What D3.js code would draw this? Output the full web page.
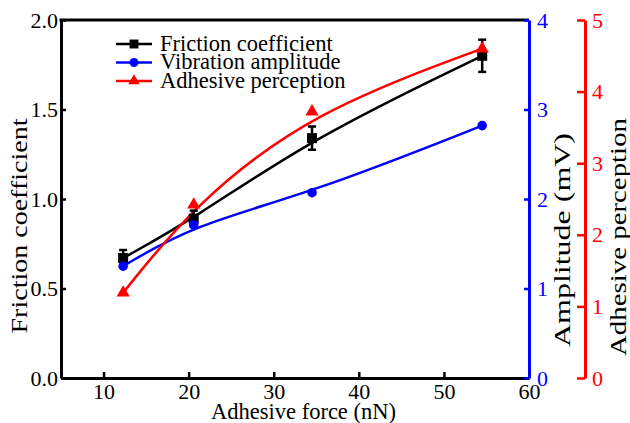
<!DOCTYPE html>
<html>
<head>
<meta charset="utf-8">
<script src="https://cdn.jsdelivr.net/npm/d3@7"></script>
<style>
  body { margin: 0; background: #fff; }
</style>
</head>
<body>
<div id="chart"></div>
<script>
// Data
const adhesiveForce = [12.3, 20.6, 34.5, 54.5];
const friction = [0.67, 0.89, 1.34, 1.80];
const frictionErr = [0.045, 0.045, 0.065, 0.09];
const amplitude = [1.25, 1.71, 2.07, 2.82];
const perception = [1.19, 2.42, 3.72, 4.60];

const xTicks = [10, 20, 30, 40, 50, 60];
const frictionTicks = [0, 0.5, 1.0, 1.5, 2.0];
const amplitudeTicks = [0, 1, 2, 3, 4];
const perceptionTicks = [0, 1, 2, 3, 4, 5];

const W = 630, H = 423;
const plotL = 61, plotR = 529, plotT = 20, plotB = 378;
const redAxisX = 585;
const serif = "Liberation Serif, DejaVu Serif, serif";
const tickFont = "22px";
const titleFont = "22.5px";

const svg = d3.select("#chart").append("svg")
  .attr("width", W).attr("height", H)
  .attr("font-family", serif);

const x = d3.scaleLinear().domain([5, 60]).range([plotL, plotR]);
const yF = d3.scaleLinear().domain([0, 2]).range([plotB, plotT]);
const yA = d3.scaleLinear().domain([0, 4]).range([plotB, plotT]);
const yP = d3.scaleLinear().domain([0, 5]).range([plotB, plotT]);

function styleAxis(g, color) {
  g.attr("font-family", serif).attr("font-size", tickFont);
  g.select(".domain").attr("stroke", color).attr("stroke-width", 3);
  g.selectAll(".tick line").attr("stroke", color).attr("stroke-width", 2.5);
  g.selectAll("text").attr("fill", color);
}

// Frame top line
svg.append("line")
  .attr("x1", plotL - 1.5).attr("x2", plotR)
  .attr("y1", plotT).attr("y2", plotT)
  .attr("stroke", "#000").attr("stroke-width", 3);

// Bottom axis
const gx = svg.append("g")
  .attr("transform", `translate(0,${plotB})`)
  .call(d3.axisBottom(x).tickValues(xTicks).tickSizeInner(-6).tickSizeOuter(0).tickPadding(21).tickFormat(d3.format("d")));
styleAxis(gx, "#000");
gx.selectAll("text").attr("dy", "0");

// Left axis
const gy = svg.append("g")
  .attr("transform", `translate(${plotL},0)`)
  .call(d3.axisLeft(yF).tickValues(frictionTicks).tickSizeInner(-5).tickSizeOuter(0).tickPadding(3).tickFormat(d3.format(".1f")));
styleAxis(gy, "#000");

// Blue right axis
const ga = svg.append("g")
  .attr("transform", `translate(${plotR},0)`)
  .call(d3.axisRight(yA).tickValues(amplitudeTicks).tickSizeInner(-5).tickSizeOuter(0).tickPadding(8).tickFormat(d3.format("d")));
styleAxis(ga, "#0000ff");

// Red right axis
const gp = svg.append("g")
  .attr("transform", `translate(${redAxisX},0)`)
  .call(d3.axisRight(yP).tickValues(perceptionTicks).tickSizeInner(-8).tickSizeOuter(0).tickPadding(7).tickFormat(d3.format("d")));
styleAxis(gp, "#ff0000");

// Axis titles
function title(tx, ty, rot, str, len) {
  const t = svg.append("text")
    .attr("transform", `translate(${tx},${ty})` + (rot ? " rotate(-90)" : ""))
    .attr("text-anchor", "middle")
    .attr("font-size", titleFont)
    .text(str);
  if (len) t.attr("textLength", len).attr("lengthAdjust", "spacingAndGlyphs");
}
title(303.5, 419, false, "Adhesive force (nN)");
title(27, 226, true, "Friction coefficient", 215);
title(570, 240, true, "Amplitude (mV)", 214);
title(625.5, 237, true, "Adhesive perception", 238);

// Series
const series = [
  { name: "Friction coefficient", values: friction, y: yF, color: "#000000", shape: d3.symbolSquare, size: 100, lsize: 80 },
  { name: "Vibration amplitude", values: amplitude, y: yA, color: "#0000ff", shape: d3.symbolCircle, size: 72, lsize: 62 },
  { name: "Adhesive perception", values: perception, y: yP, color: "#ff0000", shape: d3.symbolTriangle, size: 75, lsize: 58 }
];

series.forEach(s => {
  const pts = adhesiveForce.map((f, i) => [x(f), s.y(s.values[i])]);
  svg.append("path")
    .datum(pts)
    .attr("fill", "none")
    .attr("stroke", s.color)
    .attr("stroke-width", 2.5)
    .attr("d", d3.line().curve(d3.curveBasis));
});

// Error bars for friction
const errG = svg.append("g");
adhesiveForce.forEach((f, i) => {
  const cx = x(f);
  const y1 = yF(friction[i] + frictionErr[i]);
  const y2 = yF(friction[i] - frictionErr[i]);
  errG.append("line").attr("x1", cx).attr("x2", cx).attr("y1", y1).attr("y2", y2)
    .attr("stroke", "#000").attr("stroke-width", 2.5);
  [y1, y2].forEach(yy => {
    errG.append("line").attr("x1", cx - 4).attr("x2", cx + 4).attr("y1", yy).attr("y2", yy)
      .attr("stroke", "#000").attr("stroke-width", 2.5);
  });
});

// Markers
series.forEach(s => {
  svg.append("g").selectAll("path")
    .data(adhesiveForce.map((f, i) => [x(f), s.y(s.values[i])]))
    .enter().append("path")
    .attr("transform", d => `translate(${d[0]},${d[1]})`)
    .attr("d", d3.symbol().type(s.shape).size(s.size))
    .attr("fill", s.color);
});

// Legend
const legend = svg.append("g").attr("transform", "translate(116,44)");
series.forEach((s, i) => {
  const g = legend.append("g").attr("transform", `translate(0,${i * 18.5})`);
  g.append("line").attr("x1", 0).attr("x2", 36).attr("y1", 0).attr("y2", 0)
    .attr("stroke", s.color).attr("stroke-width", 2.5);
  g.append("path").attr("transform", "translate(18,0)")
    .attr("d", d3.symbol().type(s.shape).size(s.lsize))
    .attr("fill", s.color);
  g.append("text").attr("x", 44).attr("y", 0).attr("dy", "0.29em")
    .attr("font-size", titleFont).text(s.name);
});
</script>
</body>
</html>
